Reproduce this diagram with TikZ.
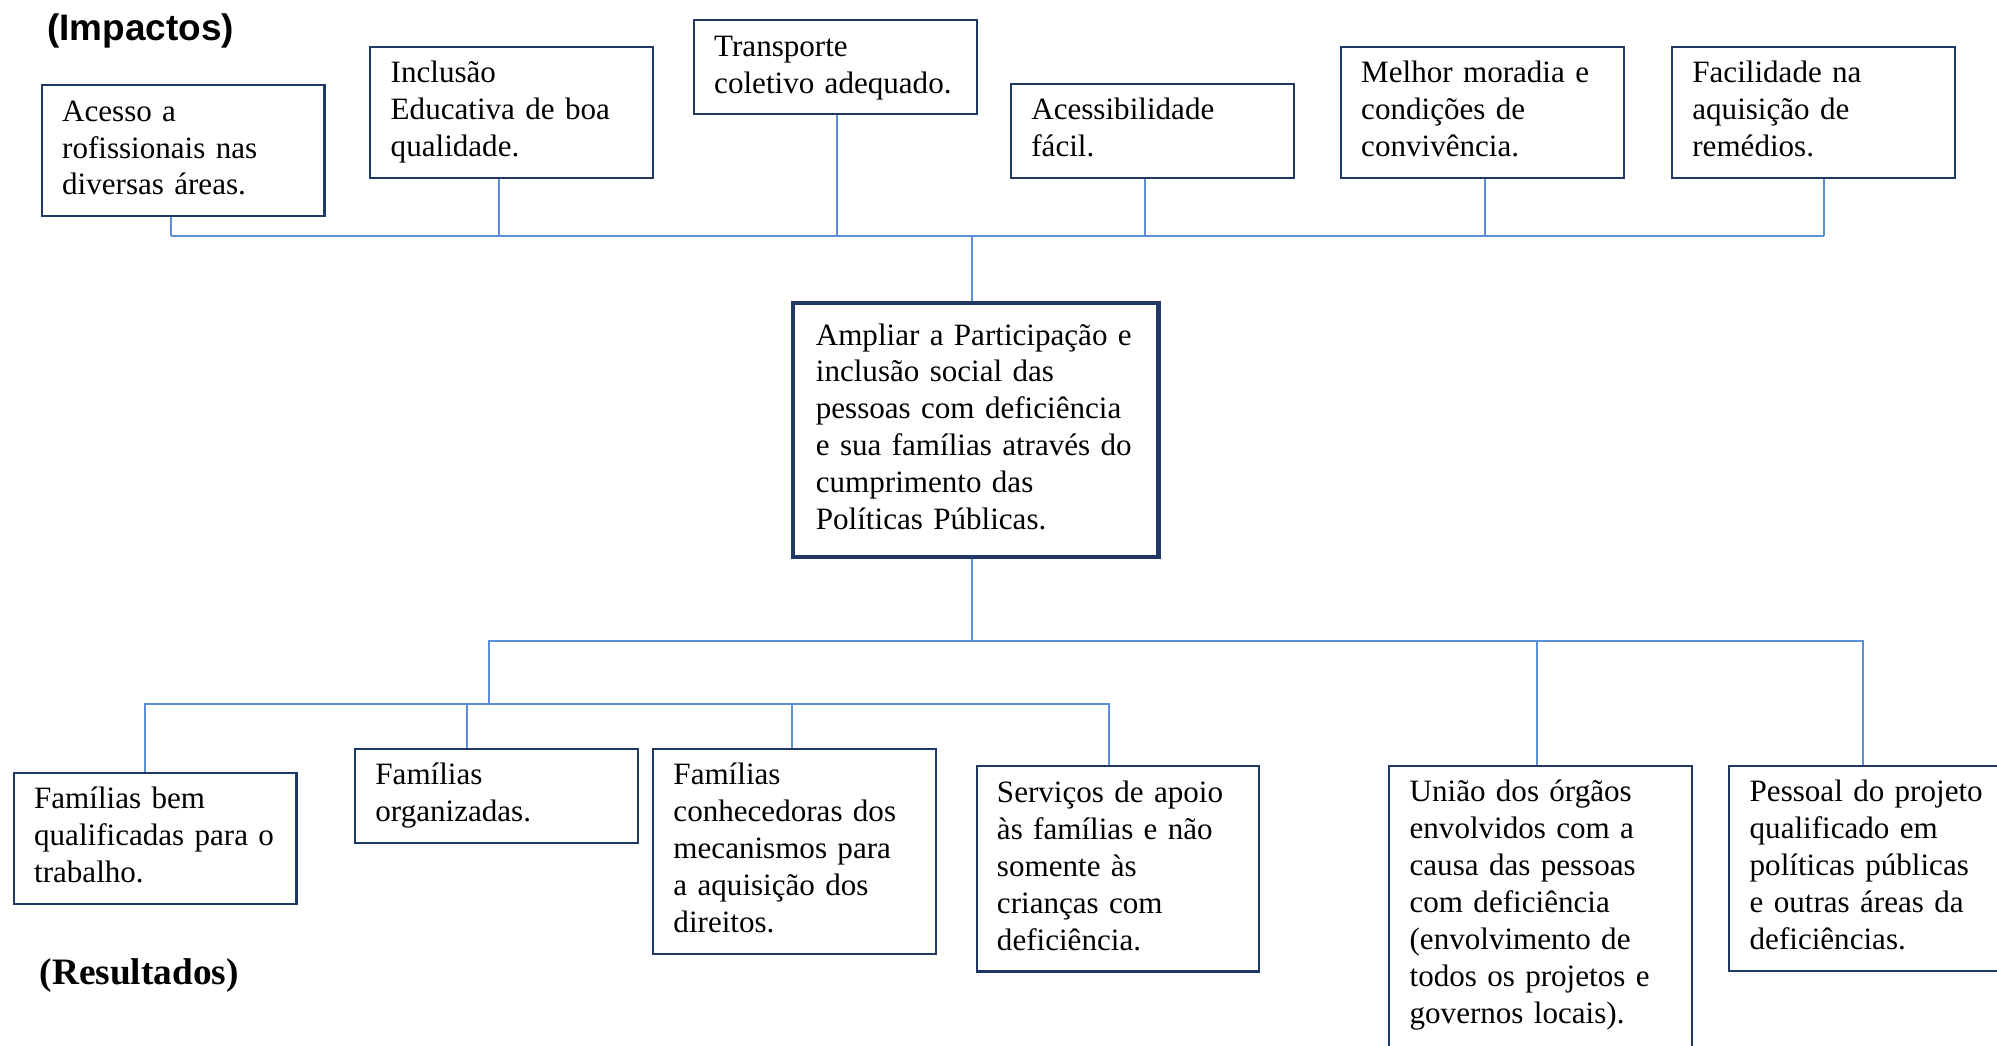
\documentclass[tikz,border=0pt]{standalone}
\usepackage{fontspec}
\setmainfont{Liberation Serif}
\newfontfamily\arialfont{Liberation Sans}

\definecolor{azulcaixa}{HTML}{1F3864}
\definecolor{azullinha}{HTML}{5B8FD6}

\tikzset{
    caixa/.style={draw=azulcaixa, line width=1.6pt, anchor=north west, align=left,
        text width=190pt, inner xsep=16pt, inner ysep=8pt,
        font=\fontsize{24.4}{29}\selectfont,
        execute at begin node=\strut, execute at end node=\strut},
    centro/.style={caixa, line width=3.2pt, text width=251pt, inner xsep=18pt, minimum height=200pt},
    ligacao/.style={draw=azullinha, line width=1.6pt}
}

\begin{document}
\begin{tikzpicture}[x=1pt, y=-1pt]
        \useasboundingbox (0,0) rectangle (1568,821);

        % titulos
        \node[anchor=west, inner sep=0pt, font=\arialfont\bfseries\fontsize{29}{32}\selectfont] (impactos) at (37,24) {(Impactos)};
        \node[anchor=west, inner sep=0pt, font=\bfseries\fontsize{29.3}{32}\selectfont] (resultados) at (31,766) {(Resultados)};

        % impactos
        \node[caixa] (acesso) at (32,66) {Acesso a\\rofissionais nas\\diversas áreas.};
        \node[caixa] (inclusao) at (290,36) {Inclusão\\Educativa de boa\\qualidade.};
        \node[caixa] (transporte) at (544,15) {Transporte\\coletivo adequado.};
        \node[caixa] (acessib) at (793,65) {Acessibilidade\\fácil.};
        \node[caixa] (moradia) at (1052,36) {Melhor moradia e\\condições de\\convivência.};
        \node[caixa] (remedios) at (1312,36) {Facilidade na\\aquisição de\\remédios.};

        % objetivo
        \node[centro] (objetivo) at (621,236) {Ampliar a Participação e\\inclusão social das\\pessoas com deficiência\\e sua famílias através do\\cumprimento das\\Políticas Públicas.};

        % resultados
        \node[caixa] (qualificadas) at (10,606) {Famílias bem\\qualificadas para o\\trabalho.};
        \node[caixa] (organizadas) at (278,587) {Famílias\\organizadas.};
        \node[caixa] (conhecedoras) at (512,587) {Famílias\\conhecedoras dos\\mecanismos para\\a aquisição dos\\direitos.};
        \node[caixa] (servicos) at (766,601) {Serviços de apoio\\às famílias e não\\somente às\\crianças com\\deficiência.};
        \node[caixa, text width=206pt] (uniao) at (1090,600.5) {União dos órgãos\\envolvidos com a\\causa das pessoas\\com deficiência\\(envolvimento de\\todos os projetos e\\governos locais).\\};
        \node[caixa] (pessoal) at (1357,600.5) {Pessoal do projeto\\qualificado em\\políticas públicas\\e outras áreas da\\deficiências.};

        \coordinate (barraTopo) at (763,185.5);
        \coordinate (barraBaixo) at (763,503);
        \coordinate (barraFam) at (384,552.5);

        % ligacoes de cima
        \foreach \caixa/\xpos in {acesso/134, inclusao/392, transporte/657, acessib/899, moradia/1166, remedios/1432} {
            \draw[ligacao] (\caixa.south -| \xpos,0) -- (barraTopo -| \xpos,0);
        }
        \draw[ligacao] (barraTopo -| 134,0) -- (barraTopo -| 1432,0);
        \draw[ligacao] (objetivo.north -| barraTopo) -- (barraTopo);

        % ligacoes de baixo
        \draw[ligacao] (objetivo.south -| barraBaixo) -- (barraBaixo);
        \draw[ligacao] (barraFam) -- (barraBaixo -| barraFam) -- (barraBaixo -| 1463,0) -- (pessoal.north -| 1463,0);
        \draw[ligacao] (uniao.north -| 1207,0) -- (barraBaixo -| 1207,0);
        \draw[ligacao] (qualificadas.north -| 114,0) -- (barraFam -| 114,0) -- (barraFam -| 871,0) -- (servicos.north -| 871,0);
        \foreach \caixa/\xpos in {organizadas/367, conhecedoras/622} {
            \draw[ligacao] (\caixa.north -| \xpos,0) -- (barraFam -| \xpos,0);
        }
\end{tikzpicture}
\end{document}
